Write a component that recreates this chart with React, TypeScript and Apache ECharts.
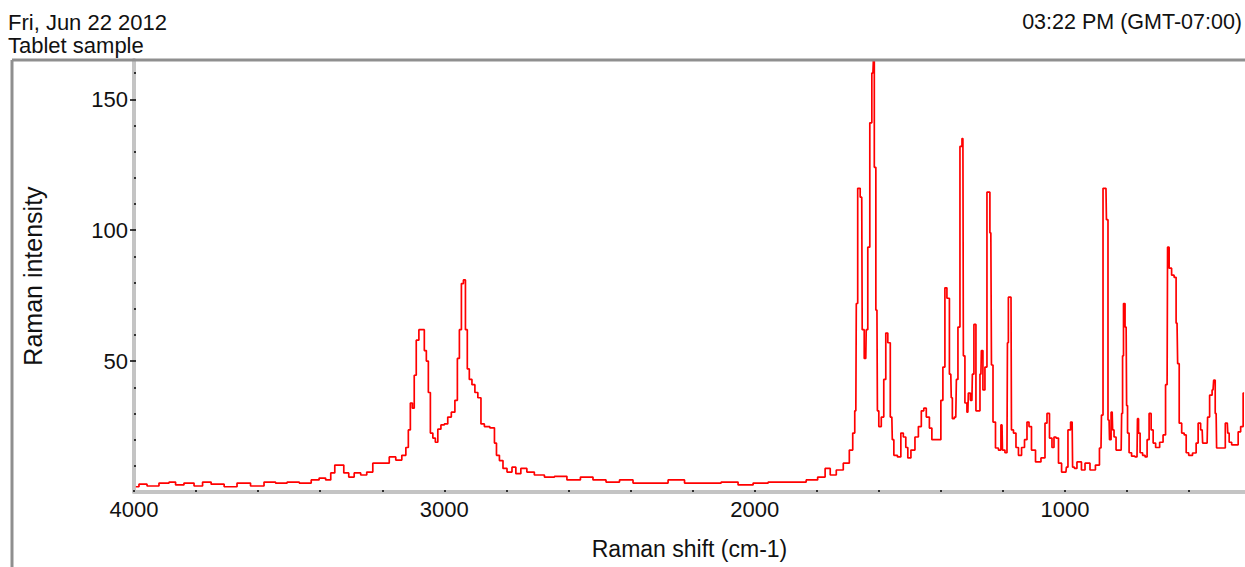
import React, { useEffect, useRef } from "react";
import * as echarts from "echarts";

const headerLeft = ["Fri, Jun 22 2012", "Tablet sample"];
const headerRight = "03:22 PM (GMT-07:00)";
const xTitle = "Raman shift (cm-1)";
const yTitle = "Raman intensity";

const xLabelValues = [4000, 3000, 2000, 1000];
const xTickValues = [4000, 3800, 3600, 3400, 3200, 3000, 2800, 2600, 2400, 2200, 2000, 1800, 1600, 1400, 1200, 1000, 800, 600];
const yLabelValues = [50, 100, 150];
const yMinorValues = [10, 20, 30, 40, 50, 60, 70, 80, 90, 100, 110, 120, 130, 140, 150, 160];

const shifts = [
  3994, 3974, 3942, 3897, 3877, 3855, 3823, 3790, 3768, 3735, 3684, 3652, 3597, 3565, 3523, 3490, 3445, 3413, 3394, 3371,
  3361, 3345, 3332, 3316, 3300, 3281, 3258, 3242, 3219, 3187, 3168, 3145, 3129, 3119, 3113, 3106, 3100, 3094, 3087, 3077,
  3068, 3061, 3055, 3048, 3042, 3032, 3026, 3016, 3006, 2994, 2984, 2971, 2961, 2955, 2948, 2942, 2935, 2929, 2923, 2916,
  2906, 2897, 2887, 2877, 2865, 2842, 2835, 2829, 2816, 2806, 2790, 2774, 2765, 2742, 2726, 2694, 2661, 2629, 2581, 2542,
  2500, 2458, 2413, 2371, 2306, 2252, 2200, 2135, 2081, 2026, 1984, 1929, 1855, 1813, 1781, 1765, 1748, 1726, 1703, 1687,
  1681, 1674, 1671, 1665, 1655, 1652, 1642, 1639, 1632, 1626, 1619, 1616, 1613, 1606, 1603, 1597, 1587, 1581, 1574, 1568,
  1558, 1555, 1548, 1532, 1526, 1516, 1510, 1503, 1490, 1477, 1468, 1458, 1452, 1442, 1432, 1426, 1403, 1397, 1390, 1384,
  1377, 1368, 1365, 1361, 1352, 1348, 1342, 1335, 1329, 1326, 1319, 1313, 1310, 1300, 1297, 1290, 1284, 1277, 1271, 1268,
  1261, 1255, 1248, 1245, 1239, 1235, 1229, 1219, 1210, 1203, 1200, 1187, 1184, 1181, 1174, 1171, 1161, 1155, 1145, 1135,
  1126, 1119, 1113, 1103, 1087, 1068, 1061, 1055, 1045, 1039, 1032, 1026, 1016, 1006, 997, 994, 987, 977, 974, 965,
  958, 952, 942, 929, 910, 894, 884, 881, 874, 868, 865, 858, 855, 848, 845, 839, 832, 819, 816, 813,
  810, 803, 800, 797, 790, 781, 768, 765, 761, 755, 745, 739, 732, 726, 719, 713, 703, 687, 681, 671,
  668, 661, 652, 645, 639, 635, 629, 619, 613, 606, 597, 581, 574, 568, 558, 555, 542, 539, 529, 523,
  519, 513, 510, 490, 477, 474, 468, 458, 445, 439, 429, 423,
];

const intensities = [
  2, 3, 2.3, 3.4, 3.8, 2.7, 3.4, 2.3, 3.8, 3, 2, 3.4, 2.3, 3.8, 3.4, 3.8, 3.4, 4.6, 5.3, 4.6,
  7.3, 10.3, 10.3, 7.3, 5.7, 7.3, 6.5, 7.6, 11, 11, 13.4, 12.2, 14, 17, 23.7, 34, 32, 44.6, 58, 62,
  62, 54, 50, 38, 22.5, 20.6, 19, 24, 25.6, 26, 28.6, 30.5, 35, 51, 62, 79.6, 81, 62, 47, 43,
  41, 38, 36, 26, 25, 24.5, 18.7, 14, 12, 9, 7.6, 9.5, 7, 9, 7.6, 6.5, 5.7, 6, 4.6, 5.7,
  4.6, 3.8, 4.6, 3.4, 3.4, 4.6, 3.4, 3.4, 3.8, 2.7, 3.4, 3.8, 3.8, 4.6, 5.7, 9, 6.5, 8.4, 11, 16,
  22.5, 31, 72, 116, 112.6, 62, 51, 62, 93.5, 141, 160, 165, 124, 69.5, 31, 25, 28.6, 43, 60.7, 57,
  28.6, 20, 14, 13.4, 22.5, 21, 17, 13, 16, 21, 25, 31, 32, 28.6, 24.4, 20, 20, 35, 47.7, 78,
  74, 45, 36, 28, 28.6, 43, 63, 132, 135, 52, 34, 30.5, 37.8, 35, 45, 64, 31, 31, 45, 54,
  39, 47.7, 114.5, 114.5, 99, 48.5, 26.7, 16.8, 16, 25.6, 16, 15, 57, 74.4, 74.4, 23.7, 22.5, 17, 14, 17,
  20, 26.7, 25, 16, 11.5, 13, 26.3, 30, 20.6, 17, 21, 20.6, 11, 7.6, 7.6, 9.5, 23.7, 26.7, 9.5, 9,
  11.5, 11.5, 8.4, 11, 8.4, 10.3, 16.8, 29.4, 116, 116, 104, 27.5, 20, 30.5, 23.7, 21, 16, 16, 30, 52,
  72, 63, 33, 22.5, 15, 13.7, 13.4, 28, 22.5, 15, 14, 13.4, 20, 30, 23.7, 18.7, 17, 19, 21.8, 41,
  93.5, 85.5, 82.8, 82, 64.5, 49, 26.3, 22.5, 21.8, 15, 14, 14.9, 18.7, 26.3, 23.7, 18.7, 18.7, 28.6, 37, 39,
  42.7, 30, 16.8, 16.8, 26.3, 22.5, 19, 18, 18, 23, 25, 37.8,
];

const X_MIN = 420;
const X_MAX = 4000;
const Y_MIN = 0;
const Y_MAX = 165;

export default function App() {
  const ref = useRef<HTMLDivElement>(null);

  useEffect(() => {
    if (!ref.current) return;
    const chart = echarts.init(ref.current, undefined, { renderer: "svg" });
    const data = shifts.map((s, i) => [s, intensities[i]]);
    const font = "'Liberation Sans', Arial, sans-serif";
    const textColor = "#111";
    const plain = (v: number) => String(v);

    chart.setOption({
      animation: false,
      backgroundColor: "#ffffff",
      grid: { left: 134, top: 60, right: 0, bottom: 75, containLabel: false },
      graphic: [
        {
          type: "line",
          shape: { x1: 12, y1: 60, x2: 12, y2: 600 },
          style: { stroke: "#8f8f8f", lineWidth: 3 },
          z: 10,
        },
        {
          type: "line",
          shape: { x1: 12, y1: 60, x2: 1300, y2: 60 },
          style: { stroke: "#8f8f8f", lineWidth: 3 },
          z: 10,
        },
        {
          type: "text",
          left: 8,
          top: 11,
          style: { text: headerLeft[0], fontSize: 22, fontFamily: font, fill: textColor },
        },
        {
          type: "text",
          left: 8,
          top: 34,
          style: { text: headerLeft[1], fontSize: 22, fontFamily: font, fill: textColor },
        },
        {
          type: "text",
          right: 3,
          top: 11,
          style: { text: headerRight, fontSize: 21.5, fontFamily: font, fill: textColor },
        },
      ],
      xAxis: {
        type: "value",
        inverse: true,
        min: X_MIN,
        max: X_MAX,
        name: xTitle,
        nameLocation: "middle",
        nameGap: 45,
        nameTextStyle: { fontSize: 23, fontFamily: font, color: textColor },
        axisLine: { show: true, onZero: false, lineStyle: { color: "#c4c4c4", width: 4 } },
        axisTick: {
          show: true,
          inside: true,
          length: 2,
          customValues: xTickValues,
          lineStyle: { color: "#000", width: 1.5 },
        },
        axisLabel: {
          show: true,
          customValues: xLabelValues,
          formatter: plain,
          fontSize: 22,
          fontFamily: font,
          color: textColor,
          margin: 6,
        },
        splitLine: { show: false },
      },
      yAxis: [
        {
          type: "value",
          min: Y_MIN,
          max: Y_MAX,
          name: yTitle,
          nameLocation: "middle",
          nameGap: 89,
          nameRotate: 90,
          nameTextStyle: { fontSize: 25, fontFamily: font, color: textColor },
          axisLine: { show: true, lineStyle: { color: "#c4c4c4", width: 4 } },
          axisTick: {
            show: true,
            inside: false,
            length: 4,
            customValues: yLabelValues,
            lineStyle: { color: "#000", width: 1.5 },
          },
          axisLabel: {
            show: true,
            customValues: yLabelValues,
            formatter: plain,
            fontSize: 22,
            fontFamily: font,
            color: textColor,
            margin: 6,
          },
          splitLine: { show: false },
        },
        {
          type: "value",
          min: Y_MIN,
          max: Y_MAX,
          position: "left",
          offset: 0,
          axisLine: { show: false },
          axisTick: {
            show: true,
            inside: true,
            length: 2,
            customValues: yMinorValues,
            lineStyle: { color: "#000", width: 1.5 },
          },
          axisLabel: { show: false },
          splitLine: { show: false },
        },
      ],
      series: [
        {
          type: "line",
          data,
          xAxisIndex: 0,
          yAxisIndex: 0,
          step: "middle",
          showSymbol: false,
          symbol: "none",
          lineStyle: { color: "#ff0000", width: 1.7 },
          z: 5,
        },
      ],
    });

    return () => chart.dispose();
  }, []);

  return (
    <div
      ref={ref}
      style={{ position: "fixed", left: 0, top: 0, width: 1245, height: 567, background: "#fff" }}
    />
  );
}
